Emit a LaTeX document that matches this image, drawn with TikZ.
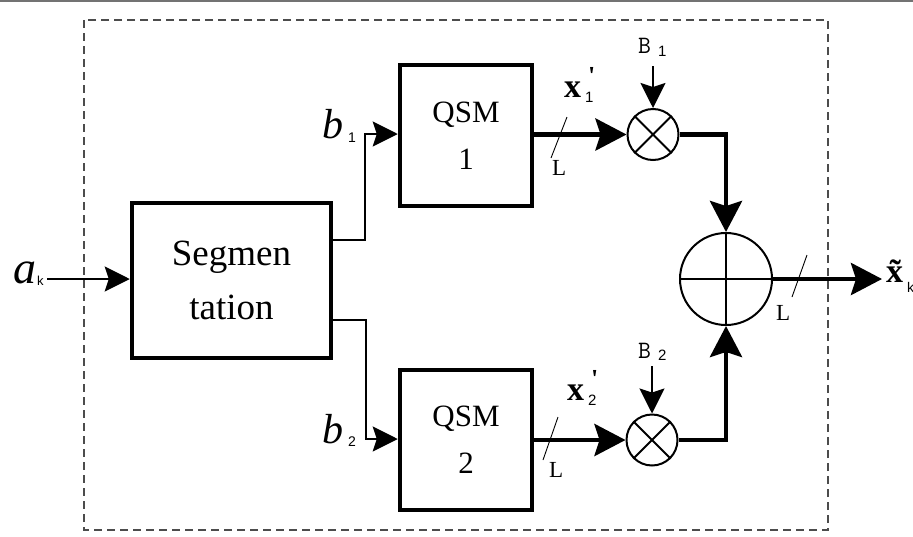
\documentclass[tikz,border=0pt]{standalone}
\usepackage{fontspec}
\setmainfont{Liberation Serif}
\setsansfont{Liberation Sans}
\usetikzlibrary{arrows.meta}
\begin{document}
\begin{tikzpicture}[x=1pt,y=-1pt,
  blk/.style={draw, line width=4.5pt, inner sep=0pt, align=center},
  mult/.style={circle, draw, line width=2pt, minimum size=51pt, inner sep=0pt},
  thickconn/.style={line width=4.5pt},
  thinconn/.style={line width=1.8pt},
  bigtip/.style={-{Stealth[length=31pt,width=32pt,inset=5pt]}},
  smalltip/.style={-{Stealth[length=25pt,width=25pt,inset=4pt]}},
  slash/.style={line width=0.9pt},
  lbl/.style={inner sep=0pt, anchor=base west},
  frame/.style={line width=1.1pt, draw=black!70, dash pattern=on 8pt off 5pt}
]
\useasboundingbox (0,0) rectangle (913,536);
\draw[line width=2pt, black!55] (0,1) -- (913,1);
\draw[frame] (84,20) rectangle (828,530);

% blocks
\node[blk, minimum width=199pt, minimum height=155pt, font=\fontsize{37}{54}\selectfont] (seg) at (231.5,280.5)
  {Segmen\\tation};
\node[blk, minimum width=132pt, minimum height=141pt, font=\fontsize{31}{47}\selectfont] (q1) at (466,135.5)
  {QSM\\1};
\node[blk, minimum width=132pt, minimum height=140pt, font=\fontsize{31}{47}\selectfont] (q2) at (466,440)
  {QSM\\2};
\node[mult] (m1) at (653,134.5) {};
\node[mult] (m2) at (652,440) {};
\node[circle, draw, line width=2pt, minimum size=92pt, inner sep=0pt] (s) at (726,279) {};
\draw[line width=2pt] (m1.north west) -- (m1.south east) (m1.north east) -- (m1.south west);
\draw[line width=2pt] (m2.north west) -- (m2.south east) (m2.north east) -- (m2.south west);
\draw[line width=2pt] (s.north) -- (s.south) (s.west) -- (s.east);

% coordinates
\coordinate (ain) at (47,279);
\coordinate (b1s) at (331,240);
\coordinate (b1v) at (365,240);
\coordinate (b1h) at (365,134);
\coordinate (b2s) at (331,320);
\coordinate (b2v) at (366,320);
\coordinate (b2h) at (366,439);
\coordinate (B1) at (653,66);
\coordinate (B2) at (652,366);
\coordinate (out) at (882,279);

% connectors
\draw[thinconn, smalltip] (ain) -- (ain -| seg.west);
\draw[thinconn, smalltip] (b1s) -- (b1v) -- (b1h) -- (b1h -| q1.west);
\draw[thinconn, smalltip] (b2s) -- (b2v) -- (b2h) -- (b2h -| q2.west);
\draw[thickconn, bigtip] (q1.east |- m1) -- (m1.west);
\draw[thickconn, bigtip] (q2.east |- m2) -- (m2.west);
\draw[thinconn, smalltip] (B1) -- (m1.north);
\draw[thinconn, smalltip] (B2) -- (m2.north);
\draw[thickconn, bigtip] (m1.east) -| (s.north);
\draw[thickconn, bigtip] (m2.east) -| (s.south);
\draw[thickconn, bigtip] (s.east) -- (out);

% bus slashes
\draw[slash] (567,117) -- (551,158);
\draw[slash] (558,417) -- (543,460);
\draw[slash] (807,255) -- (792,297);

% labels
\node[lbl] (la) at (13,283) {\fontsize{46}{46}\selectfont\itshape a};
\node[lbl] (lak) at (37,285) {\fontsize{13}{13}\selectfont\sffamily k};
\node[lbl] (lb1) at (322,138) {\fontsize{42}{42}\selectfont\itshape b};
\node[lbl] (lb1s) at (348,142) {\fontsize{14}{14}\selectfont\sffamily 1};
\node[lbl] (lb2) at (322,443) {\fontsize{42}{42}\selectfont\itshape b};
\node[lbl] (lb2s) at (348,446) {\fontsize{14}{14}\selectfont\sffamily 2};
\node[lbl] (lx1) at (564,97) {\fontsize{34}{34}\selectfont\bfseries x};
\node[lbl] (lx1p) at (588,84) {\fontsize{26}{26}\selectfont\bfseries\textquotesingle};
\node[lbl] (lx1s) at (585,102) {\fontsize{15}{15}\selectfont\sffamily 1};
\node[lbl] (lx2) at (567,400) {\fontsize{34}{34}\selectfont\bfseries x};
\node[lbl] (lx2p) at (591,387) {\fontsize{26}{26}\selectfont\bfseries\textquotesingle};
\node[lbl] (lx2s) at (588,405) {\fontsize{15}{15}\selectfont\sffamily 2};
\node[lbl] (lxo) at (886,282) {\fontsize{34}{34}\selectfont\bfseries \~{x}};
\node[lbl] (lxok) at (907,292) {\fontsize{14}{14}\selectfont\sffamily k};
\node[lbl] (lL1) at (552,175) {\fontsize{23}{23}\selectfont L};
\node[lbl] (lL2) at (549,477) {\fontsize{23}{23}\selectfont L};
\node[lbl] (lL3) at (776,320) {\fontsize{23}{23}\selectfont L};
\node[lbl] (lB1) at (638,53) {\fontsize{25}{25}\selectfont\ttfamily B};
\node[lbl] (lB1s) at (658,56) {\fontsize{15}{15}\selectfont\sffamily 1};
\node[lbl] (lB2) at (638,358) {\fontsize{25}{25}\selectfont\ttfamily B};
\node[lbl] (lB2s) at (658,360) {\fontsize{15}{15}\selectfont\sffamily 2};
\end{tikzpicture}
\end{document}
